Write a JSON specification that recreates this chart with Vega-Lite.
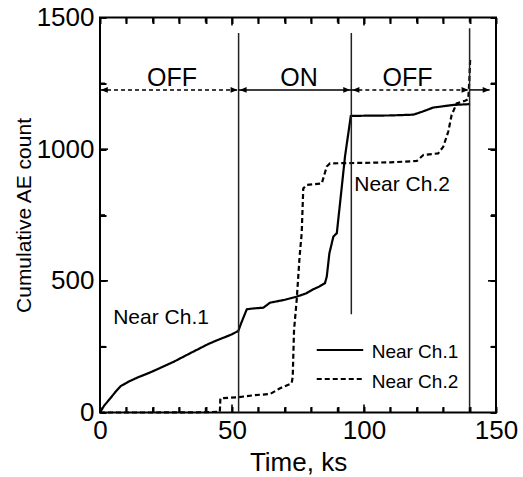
{
  "$schema": "https://vega.github.io/schema/vega-lite/v6.json",
  "width": 396,
  "height": 395,
  "autosize": {"type": "none"},
  "padding": {"left": 100, "top": 17.5, "right": 27, "bottom": 64.5},
  "background": "white",
  "config": {
    "view": {"stroke": "black", "strokeWidth": 2},
    "font": "Liberation Sans",
    "axis": {
      "domain": false, "grid": false,
      "labelColor": "black", "labelFont": "Liberation Sans", "labelFontSize": 26,
      "titleFont": "Liberation Sans", "titleFontWeight": "normal", "titleColor": "black",
      "labelOverlap": false, "labelFlush": false
    }
  },
  "datasets": {
    "curves": [
      {"series": "Near Ch.1", "t": 0, "v": 0}, {"series": "Near Ch.1", "t": 1.5, "v": 25}, {"series": "Near Ch.1", "t": 4, "v": 55},
      {"series": "Near Ch.1", "t": 6, "v": 80}, {"series": "Near Ch.1", "t": 7.95, "v": 101}, {"series": "Near Ch.1", "t": 11, "v": 118},
      {"series": "Near Ch.1", "t": 14.5, "v": 134}, {"series": "Near Ch.1", "t": 19, "v": 152}, {"series": "Near Ch.1", "t": 23.4, "v": 172},
      {"series": "Near Ch.1", "t": 28, "v": 193}, {"series": "Near Ch.1", "t": 32.2, "v": 215}, {"series": "Near Ch.1", "t": 36.5, "v": 237},
      {"series": "Near Ch.1", "t": 41, "v": 260}, {"series": "Near Ch.1", "t": 44.5, "v": 275}, {"series": "Near Ch.1", "t": 47.3, "v": 286},
      {"series": "Near Ch.1", "t": 50, "v": 297}, {"series": "Near Ch.1", "t": 52.4, "v": 310}, {"series": "Near Ch.1", "t": 53.5, "v": 340},
      {"series": "Near Ch.1", "t": 55.6, "v": 392}, {"series": "Near Ch.1", "t": 58, "v": 395}, {"series": "Near Ch.1", "t": 61.9, "v": 398},
      {"series": "Near Ch.1", "t": 64.4, "v": 417}, {"series": "Near Ch.1", "t": 70, "v": 428}, {"series": "Near Ch.1", "t": 74.5, "v": 440},
      {"series": "Near Ch.1", "t": 78, "v": 452}, {"series": "Near Ch.1", "t": 80.8, "v": 468}, {"series": "Near Ch.1", "t": 83, "v": 478},
      {"series": "Near Ch.1", "t": 85.2, "v": 491}, {"series": "Near Ch.1", "t": 85.9, "v": 516}, {"series": "Near Ch.1", "t": 86.9, "v": 605},
      {"series": "Near Ch.1", "t": 88.4, "v": 668}, {"series": "Near Ch.1", "t": 89.7, "v": 681}, {"series": "Near Ch.1", "t": 91.6, "v": 858},
      {"series": "Near Ch.1", "t": 92.8, "v": 972}, {"series": "Near Ch.1", "t": 95, "v": 1126}, {"series": "Near Ch.1", "t": 100, "v": 1127},
      {"series": "Near Ch.1", "t": 110, "v": 1128}, {"series": "Near Ch.1", "t": 118.7, "v": 1131}, {"series": "Near Ch.1", "t": 122, "v": 1142},
      {"series": "Near Ch.1", "t": 126.2, "v": 1158}, {"series": "Near Ch.1", "t": 130, "v": 1163}, {"series": "Near Ch.1", "t": 133.8, "v": 1168},
      {"series": "Near Ch.1", "t": 140.2, "v": 1171},
      {"series": "Near Ch.2", "t": 0, "v": 0}, {"series": "Near Ch.2", "t": 20, "v": 0}, {"series": "Near Ch.2", "t": 40, "v": 1},
      {"series": "Near Ch.2", "t": 45.4, "v": 3}, {"series": "Near Ch.2", "t": 45.6, "v": 54}, {"series": "Near Ch.2", "t": 52.4, "v": 58},
      {"series": "Near Ch.2", "t": 58.7, "v": 66}, {"series": "Near Ch.2", "t": 64.4, "v": 70}, {"series": "Near Ch.2", "t": 68.2, "v": 92},
      {"series": "Near Ch.2", "t": 72.6, "v": 111}, {"series": "Near Ch.2", "t": 73, "v": 136}, {"series": "Near Ch.2", "t": 73.5, "v": 313},
      {"series": "Near Ch.2", "t": 74.5, "v": 427}, {"series": "Near Ch.2", "t": 75.1, "v": 516}, {"series": "Near Ch.2", "t": 75.6, "v": 592},
      {"series": "Near Ch.2", "t": 76.4, "v": 681}, {"series": "Near Ch.2", "t": 77, "v": 851}, {"series": "Near Ch.2", "t": 78.3, "v": 864},
      {"series": "Near Ch.2", "t": 84, "v": 870}, {"series": "Near Ch.2", "t": 85.9, "v": 934}, {"series": "Near Ch.2", "t": 87.1, "v": 946},
      {"series": "Near Ch.2", "t": 100, "v": 948}, {"series": "Near Ch.2", "t": 110, "v": 950}, {"series": "Near Ch.2", "t": 120, "v": 955},
      {"series": "Near Ch.2", "t": 122.5, "v": 978}, {"series": "Near Ch.2", "t": 128.1, "v": 984}, {"series": "Near Ch.2", "t": 130, "v": 1009},
      {"series": "Near Ch.2", "t": 131.9, "v": 1066}, {"series": "Near Ch.2", "t": 133.2, "v": 1130}, {"series": "Near Ch.2", "t": 135.1, "v": 1174},
      {"series": "Near Ch.2", "t": 138.3, "v": 1184}, {"series": "Near Ch.2", "t": 139.5, "v": 1190}, {"series": "Near Ch.2", "t": 139.9, "v": 1263},
      {"series": "Near Ch.2", "t": 140.2, "v": 1339}
    ],
    "vlines": [
      {"t": 52.5, "v1": 0, "v2": 1441},
      {"t": 95.2, "v1": 373, "v2": 1441},
      {"t": 140, "v1": 0, "v2": 1459}
    ],
    "dashedArrows": [
      {"t1": 0, "t2": 52.5, "v": 1225},
      {"t1": 95.2, "t2": 140, "v": 1225}
    ],
    "solidArrows": [
      {"t1": 52.5, "t2": 95.2, "v": 1225},
      {"t1": 140, "t2": 147.6, "v": 1225}
    ],
    "heads": [
      {"t": 0.3, "v": 1225, "dir": "left"},
      {"t": 52.1, "v": 1225, "dir": "right"},
      {"t": 52.9, "v": 1225, "dir": "left"},
      {"t": 94.8, "v": 1225, "dir": "right"},
      {"t": 95.6, "v": 1225, "dir": "left"},
      {"t": 139.6, "v": 1225, "dir": "right"},
      {"t": 147.6, "v": 1225, "dir": "right"}
    ],
    "bottomTicks": [
      {"t": 10, "v": 0, "kind": "minor"}, {"t": 20, "v": 0, "kind": "minor"}, {"t": 30, "v": 0, "kind": "minor"},
      {"t": 40, "v": 0, "kind": "minor"}, {"t": 50, "v": 0, "kind": "major"}, {"t": 60, "v": 0, "kind": "minor"},
      {"t": 70, "v": 0, "kind": "minor"}, {"t": 80, "v": 0, "kind": "minor"}, {"t": 90, "v": 0, "kind": "minor"},
      {"t": 100, "v": 0, "kind": "major"}, {"t": 110, "v": 0, "kind": "minor"}, {"t": 120, "v": 0, "kind": "minor"},
      {"t": 130, "v": 0, "kind": "minor"}, {"t": 140, "v": 0, "kind": "minor"}
    ],
    "topTicks": [
      {"t": 10, "v": 1500, "kind": "minor"}, {"t": 20, "v": 1500, "kind": "minor"}, {"t": 30, "v": 1500, "kind": "minor"},
      {"t": 40, "v": 1500, "kind": "minor"}, {"t": 50, "v": 1500, "kind": "major"}, {"t": 60, "v": 1500, "kind": "minor"},
      {"t": 70, "v": 1500, "kind": "minor"}, {"t": 80, "v": 1500, "kind": "minor"}, {"t": 90, "v": 1500, "kind": "minor"},
      {"t": 100, "v": 1500, "kind": "major"}, {"t": 110, "v": 1500, "kind": "minor"}, {"t": 120, "v": 1500, "kind": "minor"},
      {"t": 130, "v": 1500, "kind": "minor"}, {"t": 140, "v": 1500, "kind": "minor"}
    ],
    "leftTicks": [
      {"t": 0, "v": 250, "kind": "minor"}, {"t": 0, "v": 500, "kind": "major"}, {"t": 0, "v": 750, "kind": "minor"},
      {"t": 0, "v": 1000, "kind": "major"}, {"t": 0, "v": 1250, "kind": "minor"}
    ],
    "rightTicks": [
      {"t": 150, "v": 250, "kind": "minor"}, {"t": 150, "v": 500, "kind": "major"}, {"t": 150, "v": 750, "kind": "minor"},
      {"t": 150, "v": 1000, "kind": "major"}, {"t": 150, "v": 1250, "kind": "minor"}
    ],
    "phases": [
      {"t": 27.3, "v": 1240, "label": "OFF"},
      {"t": 75.4, "v": 1240, "label": "ON"},
      {"t": 116.5, "v": 1240, "label": "OFF"}
    ],
    "notes": [
      {"t": 5.0, "v": 336, "label": "Near Ch.1"},
      {"t": 96.3, "v": 842, "label": "Near Ch.2"}
    ],
    "legendLines": [
      {"series": "Near Ch.1", "t1": 82.1, "t2": 99.7, "v": 237},
      {"series": "Near Ch.2", "t1": 82.1, "t2": 99.7, "v": 127}
    ],
    "legendText": [
      {"t": 102.9, "v": 206, "label": "Near Ch.1"},
      {"t": 102.9, "v": 94, "label": "Near Ch.2"}
    ]
  },
  "resolve": {"axis": {"x": "independent", "y": "independent"}},
  "layer": [
    {
      "data": {"name": "curves"},
      "mark": {"type": "line", "color": "black", "strokeWidth": 2.2},
      "encoding": {
        "x": {"field": "t", "type": "quantitative", "scale": {"domain": [0, 150], "nice": false, "zero": false},
              "axis": {"orient": "bottom", "values": [0, 10, 20, 30, 40, 50, 60, 70, 80, 90, 100, 110, 120, 130, 140, 150],
                       "labelExpr": "datum.value % 50 === 0 ? datum.label : ''",
                       "offset": -6, "tickSize": 6, "tickColor": "#000000", "tickWidth": 2, "labelPadding": 5, "title": "Time, ks", "titleFontSize": 26, "titlePadding": 6}},
        "y": {"field": "v", "type": "quantitative", "scale": {"domain": [0, 1500], "nice": false, "zero": false},
              "axis": {"orient": "left", "values": [0, 250, 500, 750, 1000, 1250, 1500], "format": "d",
                       "labelExpr": "datum.value % 500 === 0 ? datum.label : ''",
                       "offset": -6, "tickSize": 6, "tickColor": "#000000", "tickWidth": 2, "labelPadding": 6, "title": "Cumulative AE count", "titleFontSize": 21, "titlePadding": 2}},
        "strokeDash": {"field": "series", "type": "nominal", "scale": {"domain": ["Near Ch.1", "Near Ch.2"], "range": [[1, 0], [5, 3]]}, "legend": null}
      }
    },
    {
      "data": {"name": "vlines"},
      "mark": {"type": "rule", "color": "#222", "strokeWidth": 1.5},
      "encoding": {
        "x": {"field": "t", "type": "quantitative", "scale": {"domain": [0, 150], "nice": false, "zero": false},
              "axis": {"orient": "top", "values": [0, 10, 20, 30, 40, 50, 60, 70, 80, 90, 100, 110, 120, 130, 140, 150], "offset": -6, "tickSize": 6, "tickColor": "#000000", "tickWidth": 2, "labels": false, "title": null}},
        "y": {"field": "v1", "type": "quantitative", "scale": {"domain": [0, 1500], "nice": false, "zero": false},
              "axis": {"orient": "right", "values": [0, 250, 500, 750, 1000, 1250, 1500], "offset": -6, "tickSize": 6, "tickColor": "#000000", "tickWidth": 2, "labels": false, "title": null}},
        "y2": {"field": "v2"}
      }
    },
    {
      "data": {"name": "bottomTicks"},
      "mark": {"type": "point", "shape": "M0,0L0,-1", "filled": false, "color": "black", "opacity": 1, "strokeWidth": 1.6},
      "encoding": {
        "x": {"field": "t", "type": "quantitative", "scale": {"domain": [0, 150], "nice": false, "zero": false}, "axis": null},
        "y": {"field": "v", "type": "quantitative", "scale": {"domain": [0, 1500], "nice": false, "zero": false}, "axis": null},
        "size": {"field": "kind", "type": "nominal", "scale": {"domain": ["major", "minor"], "range": [256, 100]}, "legend": null}
      }
    },
    {
      "data": {"name": "topTicks"},
      "mark": {"type": "point", "shape": "M0,0L0,1", "filled": false, "color": "black", "opacity": 1, "strokeWidth": 1.6},
      "encoding": {
        "x": {"field": "t", "type": "quantitative", "scale": {"domain": [0, 150], "nice": false, "zero": false}, "axis": null},
        "y": {"field": "v", "type": "quantitative", "scale": {"domain": [0, 1500], "nice": false, "zero": false}, "axis": null},
        "size": {"field": "kind", "type": "nominal", "scale": {"domain": ["major", "minor"], "range": [256, 100]}, "legend": null}
      }
    },
    {
      "data": {"name": "leftTicks"},
      "mark": {"type": "point", "shape": "M0,0L1,0", "filled": false, "color": "black", "opacity": 1, "strokeWidth": 1.6},
      "encoding": {
        "x": {"field": "t", "type": "quantitative", "scale": {"domain": [0, 150], "nice": false, "zero": false}, "axis": null},
        "y": {"field": "v", "type": "quantitative", "scale": {"domain": [0, 1500], "nice": false, "zero": false}, "axis": null},
        "size": {"field": "kind", "type": "nominal", "scale": {"domain": ["major", "minor"], "range": [256, 100]}, "legend": null}
      }
    },
    {
      "data": {"name": "rightTicks"},
      "mark": {"type": "point", "shape": "M0,0L-1,0", "filled": false, "color": "black", "opacity": 1, "strokeWidth": 1.6},
      "encoding": {
        "x": {"field": "t", "type": "quantitative", "scale": {"domain": [0, 150], "nice": false, "zero": false}, "axis": null},
        "y": {"field": "v", "type": "quantitative", "scale": {"domain": [0, 1500], "nice": false, "zero": false}, "axis": null},
        "size": {"field": "kind", "type": "nominal", "scale": {"domain": ["major", "minor"], "range": [256, 100]}, "legend": null}
      }
    },
    {
      "data": {"name": "dashedArrows"},
      "mark": {"type": "rule", "color": "black", "strokeWidth": 1.5, "strokeDash": [4, 3]},
      "encoding": {
        "x": {"field": "t1", "type": "quantitative", "scale": {"domain": [0, 150], "nice": false, "zero": false}, "axis": null},
        "x2": {"field": "t2"},
        "y": {"field": "v", "type": "quantitative", "scale": {"domain": [0, 1500], "nice": false, "zero": false}, "axis": null}
      }
    },
    {
      "data": {"name": "solidArrows"},
      "mark": {"type": "rule", "color": "black", "strokeWidth": 1.5},
      "encoding": {
        "x": {"field": "t1", "type": "quantitative", "scale": {"domain": [0, 150], "nice": false, "zero": false}, "axis": null},
        "x2": {"field": "t2"},
        "y": {"field": "v", "type": "quantitative", "scale": {"domain": [0, 1500], "nice": false, "zero": false}, "axis": null}
      }
    },
    {
      "data": {"name": "heads"},
      "mark": {"type": "point", "filled": true, "color": "black", "opacity": 1, "size": 196, "strokeWidth": 0},
      "encoding": {
        "x": {"field": "t", "type": "quantitative", "scale": {"domain": [0, 150], "nice": false, "zero": false}, "axis": null},
        "y": {"field": "v", "type": "quantitative", "scale": {"domain": [0, 1500], "nice": false, "zero": false}, "axis": null},
        "shape": {"field": "dir", "type": "nominal", "scale": {"domain": ["left", "right"], "range": ["M0,0L1,-0.4L1,0.4Z", "M0,0L-1,-0.4L-1,0.4Z"]}, "legend": null}
      }
    },
    {
      "data": {"name": "phases"},
      "mark": {"type": "text", "font": "Liberation Sans", "fontSize": 25, "color": "black", "align": "center", "baseline": "alphabetic"},
      "encoding": {
        "x": {"field": "t", "type": "quantitative", "scale": {"domain": [0, 150], "nice": false, "zero": false}, "axis": null},
        "y": {"field": "v", "type": "quantitative", "scale": {"domain": [0, 1500], "nice": false, "zero": false}, "axis": null},
        "text": {"field": "label"}
      }
    },
    {
      "data": {"name": "notes"},
      "mark": {"type": "text", "font": "Liberation Sans", "fontSize": 21, "color": "black", "align": "left", "baseline": "alphabetic"},
      "encoding": {
        "x": {"field": "t", "type": "quantitative", "scale": {"domain": [0, 150], "nice": false, "zero": false}, "axis": null},
        "y": {"field": "v", "type": "quantitative", "scale": {"domain": [0, 1500], "nice": false, "zero": false}, "axis": null},
        "text": {"field": "label"}
      }
    },
    {
      "data": {"name": "legendLines"},
      "mark": {"type": "rule", "color": "black", "strokeWidth": 2},
      "encoding": {
        "x": {"field": "t1", "type": "quantitative", "scale": {"domain": [0, 150], "nice": false, "zero": false}, "axis": null},
        "x2": {"field": "t2"},
        "y": {"field": "v", "type": "quantitative", "scale": {"domain": [0, 1500], "nice": false, "zero": false}, "axis": null},
        "strokeDash": {"field": "series", "type": "nominal", "scale": {"domain": ["Near Ch.1", "Near Ch.2"], "range": [[1, 0], [5, 3]]}, "legend": null}
      }
    },
    {
      "data": {"name": "legendText"},
      "mark": {"type": "text", "font": "Liberation Sans", "fontSize": 19, "color": "black", "align": "left", "baseline": "alphabetic"},
      "encoding": {
        "x": {"field": "t", "type": "quantitative", "scale": {"domain": [0, 150], "nice": false, "zero": false}, "axis": null},
        "y": {"field": "v", "type": "quantitative", "scale": {"domain": [0, 1500], "nice": false, "zero": false}, "axis": null},
        "text": {"field": "label"}
      }
    }
  ]
}
